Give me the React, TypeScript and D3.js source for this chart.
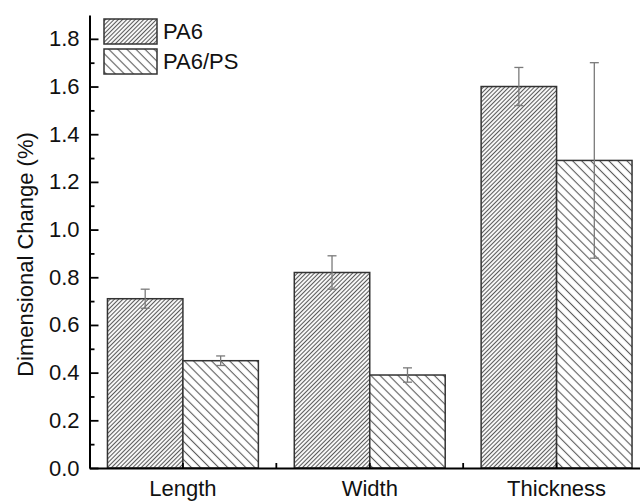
import React, { useEffect, useRef } from 'react';
import * as d3 from 'd3';

// chart data
const categories = ['Length', 'Width', 'Thickness'];
const seriesNames = ['PA6', 'PA6/PS'];
const pa6Values = [0.71, 0.82, 1.6];
const pa6Errors = [0.04, 0.07, 0.08];
const pa6psValues = [0.45, 0.39, 1.29];
const pa6psErrors = [0.02, 0.03, 0.41];
const yTicks = [0.0, 0.2, 0.4, 0.6, 0.8, 1.0, 1.2, 1.4, 1.6, 1.8];

const FONT = '"Liberation Sans", Arial, sans-serif';

const App = () => {
  const svgRef = useRef(null);

  useEffect(() => {
    const width = 640;
    const height = 501;
    const margin = { top: 15, right: -10, bottom: 33, left: 89.5 };

    const svg = d3.select(svgRef.current);
    svg.selectAll('*').remove();

    // hatch patterns
    const defs = svg.append('defs');
    const pattern = (id, angle, gap) => {
      const p = defs.append('pattern')
        .attr('id', id)
        .attr('patternUnits', 'userSpaceOnUse')
        .attr('width', gap)
        .attr('height', 10)
        .attr('patternTransform', `rotate(${angle})`);
      p.append('rect').attr('width', gap).attr('height', 10).attr('fill', '#fff');
      p.append('line')
        .attr('x1', gap / 2).attr('x2', gap / 2)
        .attr('y1', 0).attr('y2', 10)
        .attr('stroke', '#5a5a5a')
        .attr('stroke-width', 1.1);
    };
    pattern('hatch-pa6', 45, 3);
    pattern('hatch-pa6ps', -45, 6.4);
    const fills = ['url(#hatch-pa6)', 'url(#hatch-pa6ps)'];

    const x = d3.scaleBand()
      .domain(categories)
      .range([margin.left, width - margin.right])
      .padding(0);

    const xs = d3.scaleBand()
      .domain(seriesNames)
      .range([0, x.bandwidth()])
      .paddingInner(0)
      .paddingOuter(0.238);

    const y = d3.scaleLinear()
      .domain([0, 1.9])
      .range([height - margin.bottom, margin.top]);

    const data = categories.flatMap((c, i) => [
      { cat: c, s: seriesNames[0], v: pa6Values[i], e: pa6Errors[i], k: 0 },
      { cat: c, s: seriesNames[1], v: pa6psValues[i], e: pa6psErrors[i], k: 1 },
    ]);

    // bars
    svg.append('g')
      .selectAll('rect')
      .data(data)
      .join('rect')
      .attr('x', d => x(d.cat) + xs(d.s))
      .attr('y', d => y(d.v))
      .attr('width', xs.bandwidth())
      .attr('height', d => y(0) - y(d.v))
      .attr('fill', d => fills[d.k])
      .attr('stroke', '#333')
      .attr('stroke-width', 1.5);

    // error bars
    const err = svg.append('g')
      .attr('stroke', '#7a7a7a')
      .attr('stroke-width', 1.3)
      .selectAll('g')
      .data(data)
      .join('g')
      .attr('transform', d => `translate(${x(d.cat) + xs(d.s) + xs.bandwidth() / 2},0)`);
    err.append('line')
      .attr('y1', d => y(d.v + d.e))
      .attr('y2', d => y(d.v - d.e));
    err.append('line')
      .attr('x1', -4.5).attr('x2', 4.5)
      .attr('y1', d => y(d.v + d.e)).attr('y2', d => y(d.v + d.e));
    err.append('line')
      .attr('x1', -4.5).attr('x2', 4.5)
      .attr('y1', d => y(d.v - d.e)).attr('y2', d => y(d.v - d.e));

    // y axis, minor ticks first
    svg.append('g')
      .attr('transform', `translate(${margin.left},0)`)
      .call(d3.axisLeft(y)
        .tickValues(d3.range(0.1, 1.9, 0.2))
        .tickSizeInner(-5)
        .tickSizeOuter(0)
        .tickFormat(''))
      .call(g => g.select('.domain').remove())
      .selectAll('line').attr('stroke', '#000').attr('stroke-width', 1.8);

    const yAxis = svg.append('g')
      .attr('transform', `translate(${margin.left},0)`)
      .call(d3.axisLeft(y)
        .tickValues(yTicks)
        .tickSizeInner(-9)
        .tickSizeOuter(0)
        .tickPadding(10)
        .tickFormat(d3.format('.1f')));
    yAxis.select('.domain').attr('stroke', '#000').attr('stroke-width', 2);
    yAxis.selectAll('line').attr('stroke', '#000').attr('stroke-width', 1.8);
    yAxis.selectAll('text')
      .attr('fill', '#111')
      .style('font-family', FONT)
      .style('font-size', '22px');

    // x axis
    const xAxis = svg.append('g')
      .attr('transform', `translate(0,${y(0)})`)
      .call(d3.axisBottom(x)
        .tickSizeInner(-5)
        .tickSizeOuter(0)
        .tickPadding(12));
    xAxis.select('.domain').attr('stroke', '#000').attr('stroke-width', 2);
    xAxis.selectAll('line').attr('stroke', '#000').attr('stroke-width', 1.8);
    xAxis.selectAll('text')
      .attr('fill', '#111')
      .style('font-family', FONT)
      .style('font-size', '22px');

    // minor ticks between groups
    svg.append('g')
      .selectAll('line')
      .data(categories.slice(1))
      .join('line')
      .attr('x1', d => x(d)).attr('x2', d => x(d))
      .attr('y1', y(0)).attr('y2', y(0) - 5)
      .attr('stroke', '#000')
      .attr('stroke-width', 1.8);

    // y label
    svg.append('text')
      .attr('transform', `translate(33,${(y(0) + margin.top) / 2 + 13}) rotate(-90)`)
      .attr('text-anchor', 'middle')
      .style('font-family', FONT)
      .style('font-size', '22px')
      .attr('fill', '#111')
      .text('Dimensional Change (%)');

    // legend
    const legend = svg.append('g').attr('transform', 'translate(104,19)');
    seriesNames.forEach((name, i) => {
      const item = legend.append('g').attr('transform', `translate(0,${i * 30})`);
      item.append('rect')
        .attr('width', 53)
        .attr('height', 25)
        .attr('fill', fills[i])
        .attr('stroke', '#333')
        .attr('stroke-width', 1.5);
      item.append('text')
        .attr('x', 59)
        .attr('y', 20)
        .style('font-family', FONT)
        .style('font-size', '22px')
        .attr('fill', '#111')
        .text(name);
    });
  }, []);

  return (
    <svg
      ref={svgRef}
      width={640}
      height={501}
      style={{ position: 'absolute', left: 0, top: 0, background: '#fff' }}
    />
  );
};

export default App;
